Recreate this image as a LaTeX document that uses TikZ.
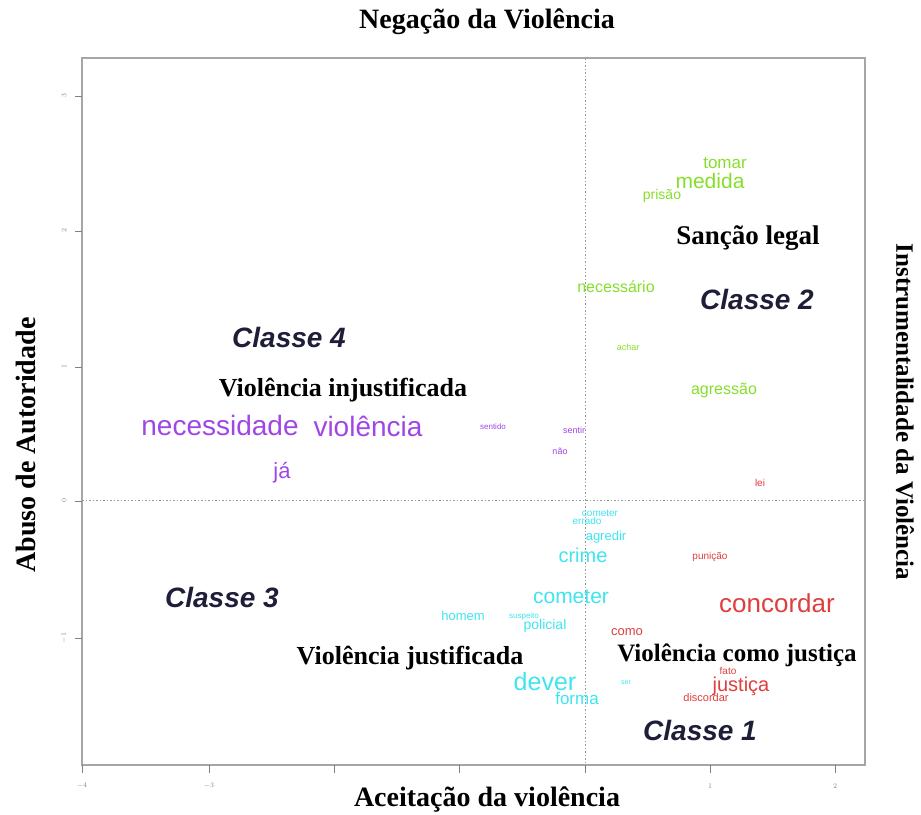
\documentclass[tikz,border=0pt]{standalone}
\usepackage{fontspec}
\setmainfont{Liberation Serif}
\setsansfont{Liberation Sans}
\usepackage{xcolor}
\definecolor{cgreen}{HTML}{86DE2A}
\definecolor{cpurple}{HTML}{A046E6}
\definecolor{ccyan}{HTML}{3EE4EE}
\definecolor{cred}{HTML}{DE3E3E}
\definecolor{cnavy}{HTML}{1E1E38}
\newcommand{\fsz}[1]{\fontsize{#1}{#1}\selectfont}

\begin{document}
\begin{tikzpicture}[x=1pt, y=-1pt, every node/.style={inner sep=0pt},
	gword/.style={font=\sffamily\fsz{#1}, text=cgreen},
	pword/.style={font=\sffamily\fsz{#1}, text=cpurple},
	cword/.style={font=\sffamily\fsz{#1}, text=ccyan},
	rword/.style={font=\sffamily\fsz{#1}, text=cred},
	theme/.style={font=\bfseries\fsz{26}},
	classe/.style={font=\sffamily\bfseries\itshape\fsz{28}, text=cnavy},
	axtitle/.style={font=\bfseries\fsz{28}},
	ticklab/.style={font=\sffamily\fsz{7}, text=gray}]
	\useasboundingbox (0,0) rectangle (921,814);
	
	% Frame and axes
	\draw[gray!70, line width=1.2pt] (82,58) rectangle (865,765);
	\draw[gray!80, dash pattern=on 1.5pt off 2pt] (585,58) -- (585,765);
	\draw[gray!80, dash pattern=on 1.5pt off 2pt] (82,500) -- (865,500);
	\foreach \y/\v in {96/3,231/2,367/1,501/0,638/-1} {
		\draw[gray] (82,\y) -- (75,\y);
		\node[ticklab, rotate=90] at (64,\y) {$\v$};
	}
	\foreach \x in {82,209,334,459,585,710,835}
		\draw[gray] (\x,765) -- (\x,773);
	\foreach \x/\v in {82/-4,209/-3,710/1,835/2}
		\node[ticklab] at (\x,786) {$\v$};
	
	% Axis titles
	\node[axtitle] (neg) at (487,22) {Negação da Violência};
	\node[axtitle] (acc) at (487,800) {Aceitação da violência};
	\node[axtitle, rotate=90] (abuso) at (26,445) {Abuso de Autoridade};
	\node[axtitle, rotate=-90, font=\bfseries\fsz{25}] (instr) at (905,412) {Instrumentalidade da Violência};
	
	% Classe 2
	\node[gword=17] (tomar) at (725,163) {tomar};
	\node[gword=21] (medida) at (710,181) {medida};
	\node[gword=14] (prisao) at (662,196) {prisão};
	\node[gword=16] (necessario) at (616,287) {necessário};
	\node[gword=9] (achar) at (628,347) {achar};
	\node[gword=16] (agressao) at (724,390) {agressão};
	\node[theme, font=\bfseries\fsz{27}] (sancao) at (748,238) {Sanção legal};
	\node[classe] (c2) at (757,299) {Classe 2};
	
	% Classe 4
	\node[classe] (c4) at (289,337) {Classe 4};
	\node[theme] (injust) at (343,390) {Violência injustificada};
	\node[pword=28] (necessidade) at (220,425) {necessidade};
	\node[pword=28] (violencia) at (368,426) {violência};
	\node[pword=22] (ja) at (282,473) {já};
	\node[pword=8] (sentido) at (493,427) {sentido};
	\node[pword=9] (sentir) at (574,430) {sentir};
	\node[pword=9] (nao) at (560,451) {não};
	
	% Classe 3
	\node[cword=10] (cometer2) at (600,513) {cometer};
	\node[cword=10] (errado) at (587,521) {errado};
	\node[cword=13] (agredir) at (606,537) {agredir};
	\node[cword=20] (crime) at (583,555) {crime};
	\node[cword=21] (cometer) at (571,597) {cometer};
	\node[cword=13] (homem) at (463,616) {homem};
	\node[cword=8] (suspeito) at (524,616) {suspeito};
	\node[cword=14] (policial) at (545,626) {policial};
	\node[cword=25] (dever) at (545,682) {dever};
	\node[cword=17] (forma) at (577,698) {forma};
	\node[cword=7] (ser) at (626,683) {ser};
	\node[classe] (c3) at (222,597) {Classe 3};
	\node[theme] (just) at (410,658) {Violência justificada};
	
	% Classe 1
	\node[rword=10] (lei) at (760,483) {lei};
	\node[rword=10] (punicao) at (710,557) {punição};
	\node[rword=26] (concordar) at (777,603) {concordar};
	\node[rword=13] (como) at (627,632) {como};
	\node[rword=10] (fato) at (728,671) {fato};
	\node[rword=20] (justica) at (741,686) {justiça};
	\node[rword=11] (discordar) at (706,698) {discordar};
	\node[theme, font=\bfseries\fsz{25}] (comojust) at (737,655) {Violência como justiça};
	\node[classe] (c1) at (700,730) {Classe 1};
	
\end{tikzpicture}
\end{document}
